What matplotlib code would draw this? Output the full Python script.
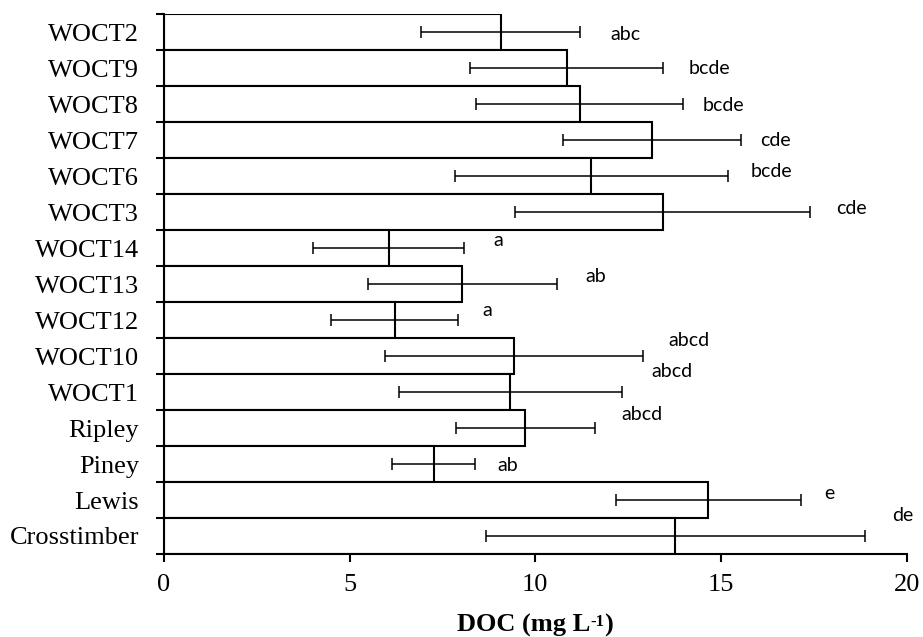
import numpy as np
import matplotlib.pyplot as plt

sites = ['WOCT2', 'WOCT9', 'WOCT8', 'WOCT7', 'WOCT6', 'WOCT3', 'WOCT14',
         'WOCT13', 'WOCT12', 'WOCT10', 'WOCT1', 'Ripley', 'Piney', 'Lewis',
         'Crosstimber']
doc_mean = [9.07, 10.85, 11.19, 13.14, 11.51, 13.43, 6.05,
            8.03, 6.21, 9.43, 9.33, 9.73, 7.26, 14.66, 13.77]
doc_err = [2.14, 2.60, 2.78, 2.40, 3.67, 3.98, 2.03,
           2.55, 1.70, 3.47, 3.00, 1.87, 1.12, 2.50, 5.10]
groups = ['abc', 'bcde', 'bcde', 'cde', 'bcde', 'cde', 'a',
          'ab', 'a', 'abcd', 'abcd', 'abcd', 'ab', 'e', 'de']

# where each significance letter sits (data coords)
label_x = [12.02, 14.13, 14.51, 16.06, 15.80, 18.10, 8.88,
           11.36, 8.58, 13.59, 13.12, 12.32, 8.97, 17.77, 19.60]
label_y = [0.08, 1.01, 2.03, 3.00, 3.88, 4.90, 5.78,
           6.78, 7.74, 8.57, 9.44, 10.62, 12.05, 12.83, 13.42]

plt.rcParams['font.family'] = 'Liberation Serif'

fig = plt.figure(figsize=(9.23, 6.37), dpi=100)
ax = fig.add_axes([0.1777, 0.1303, 0.8046, 0.8477])

ypos = np.arange(len(sites))
ax.barh(ypos, doc_mean, height=1.0, color='white', edgecolor='black',
        linewidth=1.5, zorder=2)
ax.errorbar(doc_mean, ypos, xerr=doc_err, fmt='none', ecolor='black',
            elinewidth=1.1, capsize=4, capthick=1.1, zorder=3)

for lx, ly, g in zip(label_x, label_y, groups):
    ax.text(lx, ly, g, ha='left', va='center', fontsize=14,
            family='Lato', color='black')

ax.set_xlim(0, 20)
ax.set_ylim(len(sites) - 0.5, -0.5)
ax.set_xticks([0, 5, 10, 15, 20])

# category labels in the middle, ticks on the boundaries
ax.set_yticks(np.arange(-0.5, len(sites), 1.0))
ax.set_yticklabels([])
ax.set_yticks(ypos, minor=True)
ax.set_yticklabels(sites, minor=True)
ax.tick_params(axis='y', which='minor', length=0, pad=18, labelsize=19)
ax.tick_params(axis='y', which='major', length=5.5, width=1.5, direction='out')
ax.tick_params(axis='x', length=5.5, width=1.5, direction='out', pad=9,
               labelsize=19)

for side in ['top', 'right']:
    ax.spines[side].set_visible(False)
for side in ['left', 'bottom']:
    ax.spines[side].set_linewidth(1.5)

# axis title built in pieces so the exponent keeps a plain hyphen
t1 = fig.text(457 / 923, 1 - 632 / 637, 'DOC (mg L', fontsize=19,
              fontweight='bold', ha='left', va='baseline')
t2 = ax.annotate('-1', xy=(1, 1.02), xycoords=t1, ha='left', va='top',
                 fontsize=12, fontweight='bold', annotation_clip=False)
ax.annotate(')', xy=(1, 0), xycoords=(t2, t1), ha='left', va='bottom',
            fontsize=19, fontweight='bold', annotation_clip=False)

fig.savefig('out.png', dpi=100)
